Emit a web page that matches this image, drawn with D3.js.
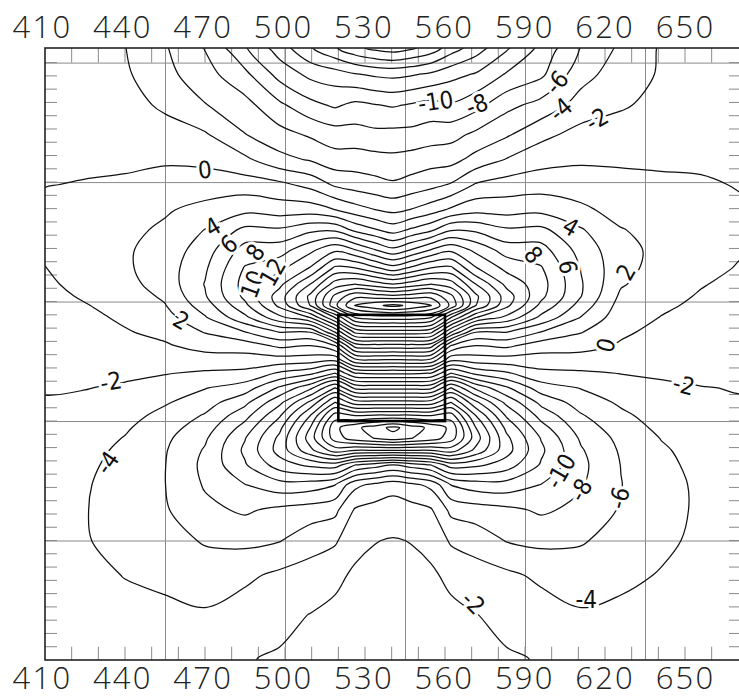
<!DOCTYPE html>
<html lang="en">
<head>
<meta charset="utf-8">
<title>Contour map</title>
<script src="https://cdn.jsdelivr.net/npm/d3@7"></script>
<style>
  body { margin: 0; background: #fff; }
  svg { display: block; }
  .grid line, .tick-marks line { stroke: #8a8a8a; stroke-width: 1; }
  .grid path { display: none; }
  .coord text { font-family: "Open Sans", "DejaVu Sans", sans-serif; font-weight: 300; font-size: 31px; letter-spacing: 2.2px; fill: #222; }
  .coord path, .coord line { display: none; }
  .iso { fill: none; stroke: #111; stroke-width: 1.25; }
  .iso-label { font-family: "Liberation Sans Narrow", "DejaVu Sans Condensed", sans-serif; font-size: 24px; fill: #111;
               stroke: #fff; stroke-width: 6px; paint-order: stroke; text-anchor: middle; dominant-baseline: central; }
</style>
</head>
<body>
<svg id="chart" width="739" height="699"></svg>
<script>
// sample positions (map units, one unit = one small tick), columns west->east, rows north->south
var U_SAMPLES = [0, 3, 6, 9, 12, 15, 17.6, 19.9, 21.75, 23.25, 24.75, 26.1, 27.45, 28.95, 30.45, 32.3, 34.6, 37.2, 40.2, 43.2, 46.2, 49.2, 52.2];
var V_SAMPLES = [46.1, 44.1, 41.8, 39.6, 37.7, 35.8, 33.9, 32.4, 30.9, 29.5, 28.3, 27.4, 26.7, 25.8, 24.7, 23.7, 22.6, 21.6, 20.5, 19.4, 18.4, 17.5, 16.7, 15.8, 14.7, 13.2, 11.3, 9.0, 6.4, 3.4, 0];

// field values, one list per column (north -> south)
var FIELD_COLUMNS = [
  [-0.8, -0.7, -0.55, -0.4, -0.2, -0.05, 0.4, 0.55, 0.35, -0.05, -0.35, -0.55, -0.7, -0.9, -1.1, -1.3, -1.5, -1.7, -1.9, -2.1, -2.3, -2.5, -2.65, -2.8, -3.0, -3.15, -3.25, -3.2, -3.1, -2.95, -2.8],
  [-1.3, -1.15, -0.95, -0.7, -0.35, 0.1, 0.8, 1.2, 1.25, 1.0, 0.6, 0.2, -0.1, -0.45, -0.8, -1.1, -1.35, -1.6, -1.95, -2.3, -2.6, -2.85, -3.05, -3.3, -3.55, -3.8, -3.9, -3.85, -3.6, -3.35, -3.1],
  [-1.95, -1.7, -1.35, -0.95, -0.45, 0.35, 1.1, 1.55, 1.75, 1.7, 1.4, 1.0, 0.65, 0.3, -0.15, -0.7, -1.2, -1.7, -2.2, -2.75, -3.3, -3.75, -4.1, -4.45, -4.75, -4.95, -5.0, -4.75, -4.05, -3.55, -3.25],
  [-3.8, -3.4, -2.3, -1.3, -0.3, 0.9, 1.8, 2.3, 2.8, 3.0, 2.8, 2.3, 1.9, 1.2, 0.5, -0.2, -1.0, -1.9, -2.9, -3.8, -4.6, -5.2, -5.6, -5.85, -5.95, -5.97, -5.8, -5.2, -4.4, -3.6, -3.2],
  [-6.1, -5.2, -3.9, -1.8, -0.5, 1.0, 2.6, 4.05, 5.0, 5.7, 6.1, 5.8, 5.0, 3.8, 2.1, 0.7, -0.8, -2.3, -3.9, -5.1, -6.2, -7.0, -7.7, -8.2, -8.5, -8.2, -7.5, -6.2, -4.9, -3.8, -3.2],
  [-9.8, -7.5, -5.3, -3.95, -1.6, 1.0, 3.5, 6.5, 8.8, 10.2, 10.8, 10.5, 9.5, 7.5, 3.95, 1.0, -0.9, -2.5, -5.0, -7.5, -9.3, -10.8, -11.9, -12.4, -11.8, -9.95, -8.3, -6.5, -4.4, -3.1, -2.1],
  [-13, -10.7, -7.6, -5.3, -3.4, 0.5, 3.05, 6.3, 9.05, 11.5, 13.5, 15.0, 14.5, 11.5, 6.05, 2.5, -0.9, -4.3, -8.3, -11.5, -13.8, -15.5, -16.5, -16.8, -15.05, -11.2, -7.5, -6.1, -3.6, -2.5, -1.8],
  [-15.8, -12.5, -9.4, -6.3, -4.2, -0.6, 3.05, 7.5, 11.5, 14.2, 18.05, 20.5, 20.05, 14.05, 6.05, 2.05, -1.05, -5.5, -11.5, -16.5, -20.05, -22.05, -23, -21.5, -16.5, -11, -7.05, -4.8, -3.2, -1.95, -1.6],
  [-17.8, -13.05, -10.3, -7.05, -5.2, -2.3, 2.05, 7.6, 13.5, 18.5, 23, 26.5, 27.5, 20.05, 12.05, 4.05, -1.5, -8.05, -16.05, -22.05, -27, -29.5, -29, -25, -17, -10.05, -6.5, -4.3, -2.3, -1.7, -1.5],
  [-19.5, -13.8, -9.5, -7.2, -5.05, -2.9, 0.9, 5.5, 12.05, 18.2, 24.05, 29.5, 32.05, 26.05, 18.5, 11, 3.5, -4.05, -11.5, -19, -26.05, -31.5, -31, -24.05, -14.05, -6.5, -3.8, -2.4, -1.8, -1.5, -1.3],
  [-20.5, -14.3, -9.9, -7.5, -5.3, -3.3, 0.05, 4.2, 10.05, 16.5, 23, 29, 33.5, 27, 19, 11.5, 3.9, -3.7, -11.3, -18.8, -26.4, -33, -32.05, -24.05, -13, -5.5, -3.3, -2.05, -1.6, -1.4, -1.2],
  [-21, -14.5, -10.2, -7.4, -5.5, -3.7, -0.5, 3.1, 8.5, 15, 22.05, 28.5, 34.6, 27, 19, 11.4, 3.8, -3.7, -11.3, -18.8, -26.4, -34.6, -33, -24.05, -12.05, -4.8, -3.0, -1.9, -1.5, -1.3, -1.2],
  [-20.3, -14.2, -9.8, -7.4, -5.2, -3.2, 0.1, 4.3, 10.05, 16.5, 23, 29, 33.5, 27, 19, 11.5, 3.9, -3.7, -11.3, -18.8, -26.4, -33, -32.05, -24.05, -13, -5.5, -3.3, -2.05, -1.6, -1.4, -1.2],
  [-19.2, -13.6, -9.3, -7.0, -4.8, -2.6, 1.1, 5.6, 12.05, 18.2, 24.05, 29.5, 32.05, 26.05, 18.5, 11, 3.5, -4.05, -11.5, -19, -26.05, -31.5, -31, -24.05, -14.05, -6.5, -3.8, -2.4, -1.8, -1.5, -1.3],
  [-17.0, -12.6, -9.8, -6.7, -4.7, -1.8, 2.4, 7.8, 13.5, 18.5, 23, 26.5, 27.5, 20.05, 12.05, 4.05, -1.5, -8.05, -16.05, -22.05, -27, -29.5, -29, -25, -17, -10.05, -6.5, -4.3, -2.3, -1.7, -1.5],
  [-15.0, -11.8, -8.7, -5.6, -3.3, 0.2, 3.4, 7.6, 11.5, 14.2, 18.05, 20.5, 20.05, 14.05, 6.05, 2.05, -1.05, -5.5, -11.5, -16.5, -20.05, -22.05, -23, -21.5, -16.5, -11, -7.05, -4.8, -3.2, -1.95, -1.6],
  [-12.3, -9.8, -6.6, -4.3, -1.9, 0.9, 3.2, 6.3, 9.05, 11.5, 13.5, 15.0, 14.5, 11.5, 6.05, 2.5, -0.9, -4.3, -8.3, -11.5, -13.8, -15.5, -16.5, -16.8, -15.05, -11.2, -7.5, -6.1, -3.6, -2.5, -1.8],
  [-9.5, -8.4, -5.3, -2.6, -0.7, 1.1, 3.5, 6.5, 8.8, 10.2, 10.8, 10.5, 9.5, 7.5, 3.95, 1.0, -0.9, -2.5, -5.0, -7.5, -9.3, -10.8, -11.9, -12.4, -11.8, -9.95, -8.3, -6.5, -4.4, -3.1, -2.1],
  [-5.9, -4.7, -3.2, -1.3, -0.3, 1.0, 2.4, 4.2, 5.2, 5.9, 6.2, 6.05, 5.2, 3.9, 2.1, 0.7, -0.8, -2.3, -3.9, -5.1, -6.2, -7.0, -7.7, -8.2, -8.5, -8.2, -7.5, -6.2, -4.9, -3.8, -3.2],
  [-3.6, -3.0, -2.2, -1.2, -0.3, 0.6, 1.3, 2.1, 2.65, 2.6, 2.2, 1.6, 1.2, 0.8, 0.3, -0.2, -1.0, -1.95, -2.8, -3.7, -4.4, -5.0, -5.45, -5.75, -5.95, -6.05, -5.8, -5.2, -4.4, -3.6, -3.2],
  [-1.8, -1.8, -1.5, -0.95, -0.35, 0.4, 1.0, 1.35, 1.45, 1.3, 0.9, 0.55, 0.3, -0.05, -0.5, -0.95, -1.35, -1.8, -2.25, -2.75, -3.2, -3.55, -3.95, -4.25, -4.45, -4.6, -4.55, -4.35, -3.9, -3.45, -3.15],
  [-1.3, -1.25, -1.05, -0.7, -0.3, 0.2, 0.7, 0.95, 0.9, 0.5, 0.1, -0.15, -0.35, -0.6, -0.9, -1.15, -1.4, -1.65, -2.05, -2.35, -2.65, -2.9, -3.1, -3.3, -3.5, -3.7, -3.75, -3.65, -3.45, -3.25, -3.05],
  [-0.9, -0.8, -0.65, -0.45, -0.3, -0.1, 0.2, 0.3, 0.15, -0.15, -0.45, -0.65, -0.8, -0.95, -1.15, -1.35, -1.55, -1.75, -1.93, -2.1, -2.3, -2.45, -2.6, -2.75, -2.9, -3.05, -3.1, -3.05, -2.95, -2.85, -2.75]
];

var LEVELS = d3.range(-34, 36, 2);
var X_LABELS = [410, 440, 470, 500, 530, 560, 590, 620, 650];

// contour labels: level, position (u, v), text angle
var LEVEL_LABELS = [
  {level: -10, u: 29.3, v: 42.05, angle: -8},
  {level: -8, u: 32.4, v: 41.8, angle: -20},
  {level: -6, u: 38.4, v: 43.5, angle: -50},
  {level: -4, u: 38.7, v: 41.45, angle: -40},
  {level: -2, u: 41.4, v: 40.7, angle: -30},
  {level: 0, u: 12.0, v: 36.9, angle: -5},
  {level: 4, u: 12.6, v: 32.6, angle: -30},
  {level: 6, u: 13.8, v: 31.3, angle: -40},
  {level: 8, u: 15.8, v: 30.7, angle: -55},
  {level: 10, u: 15.6, v: 28.3, angle: -70},
  {level: 12, u: 17.1, v: 29.2, angle: -60},
  {level: 2, u: 10.2, v: 25.55, angle: 30},
  {level: 4, u: 39.4, v: 32.6, angle: 30},
  {level: 8, u: 36.6, v: 30.5, angle: 50},
  {level: 6, u: 39.2, v: 29.6, angle: 80},
  {level: 2, u: 43.6, v: 29.2, angle: -60},
  {level: 0, u: 42.1, v: 23.7, angle: -75},
  {level: -2, u: 4.95, v: 20.95, angle: -10},
  {level: -2, u: 47.9, v: 20.7, angle: 15},
  {level: -4, u: 4.7, v: 14.85, angle: -55},
  {level: -10, u: 38.7, v: 14.2, angle: -60},
  {level: -8, u: 40.2, v: 12.8, angle: -60},
  {level: -6, u: 43.1, v: 12.2, angle: -75},
  {level: -2, u: 32.1, v: 4.3, angle: 45},
  {level: -4, u: 40.6, v: 4.5, angle: 0}
];

// the structure outline
var BOX_U = [22, 30];
var BOX_V = [18, 26];

var svg = d3.select("#chart");

// plot scales
var x = d3.scaleLinear().domain([0, 52.2]).range([45, 741]);
var y = d3.scaleLinear().domain([0, 46.1]).range([660, 48]);
// easting labels
var xLab = d3.scaleLinear().domain([410, 650]).range([x(-0.23), x(48.0)]);

svg.append("defs").append("clipPath").attr("id", "plotclip")
  .append("rect")
    .attr("x", x(0)).attr("y", y(46.1))
    .attr("width", x(52.2) - x(0)).attr("height", y(0) - y(46.1));

// grid lines
svg.append("g").attr("class", "grid")
  .attr("transform", "translate(0," + y(0) + ")")
  .call(d3.axisBottom(x).tickValues([9, 18, 27, 36, 45]).tickSize(-(y(0) - y(46.1))).tickFormat(""));
svg.append("g").attr("class", "grid")
  .attr("transform", "translate(" + x(0) + ",0)")
  .call(d3.axisLeft(y).tickValues([9, 18, 27, 36, 45]).tickSize(-(x(52.2) - x(0))).tickFormat(""));

// small tick marks around the frame
var ticks = svg.append("g").attr("class", "tick-marks");
var evenU = d3.range(2, 52, 2);
ticks.selectAll("line.top").data(evenU).enter().append("line").attr("class", "top")
  .attr("x1", function(d){return x(d);}).attr("x2", function(d){return x(d);})
  .attr("y1", y(46.1)).attr("y2", y(45));
ticks.selectAll("line.bot").data(evenU).enter().append("line").attr("class", "bot")
  .attr("x1", function(d){return x(d);}).attr("x2", function(d){return x(d);})
  .attr("y1", y(0)).attr("y2", y(1));
var allV = d3.range(1, 46, 1);
ticks.selectAll("line.lft").data(allV).enter().append("line").attr("class", "lft")
  .attr("x1", x(0)).attr("x2", x(0.9))
  .attr("y1", function(d){return y(d);}).attr("y2", function(d){return y(d);});
ticks.selectAll("line.rgt").data(allV).enter().append("line").attr("class", "rgt")
  .attr("x1", x(51.3)).attr("x2", x(52.2))
  .attr("y1", function(d){return y(d);}).attr("y2", function(d){return y(d);});

// contour computation
var nx = U_SAMPLES.length, ny = V_SAMPLES.length;
var values = new Array(nx * ny);
for (var j = 0; j < ny; j++) {
  for (var i = 0; i < nx; i++) values[j * nx + i] = FIELD_COLUMNS[i][j];
}
var contours = d3.contours().size([nx, ny]).thresholds(LEVELS)(values);

var idxU = d3.scaleLinear().domain(d3.range(nx)).range(U_SAMPLES);
var idxV = d3.scaleLinear().domain(d3.range(ny)).range(V_SAMPLES);
var line = d3.line().curve(d3.curveCatmullRomClosed.alpha(0.5));

var iso = svg.append("g").attr("clip-path", "url(#plotclip)");
contours.forEach(function(c) {
  c.coordinates.forEach(function(poly) {
    poly.forEach(function(ring) {
      var pts = ring.slice(0, -1).map(function(p) {
        return [x(idxU(p[0] - 0.5)), y(idxV(p[1] - 0.5))];
      });
      iso.append("path").attr("class", "iso").attr("d", line(pts));
    });
  });
});

// structure outline
svg.append("rect")
  .attr("x", x(BOX_U[0])).attr("y", y(BOX_V[1]))
  .attr("width", x(BOX_U[1]) - x(BOX_U[0])).attr("height", y(BOX_V[0]) - y(BOX_V[1]))
  .attr("fill", "none").attr("stroke", "#000").attr("stroke-width", 2.6);

// contour labels
svg.append("g").attr("clip-path", "url(#plotclip)")
  .selectAll("text").data(LEVEL_LABELS).enter().append("text")
    .attr("class", "iso-label")
    .attr("transform", function(d){return "translate(" + x(d.u) + "," + y(d.v) + ") rotate(" + d.angle + ")";})
    .text(function(d){return d.level;});

// frame
svg.append("rect")
  .attr("x", x(0)).attr("y", y(46.1))
  .attr("width", x(52.2) - x(0)).attr("height", y(0) - y(46.1))
  .attr("fill", "none").attr("stroke", "#222").attr("stroke-width", 1.6);

// easting labels top and bottom
svg.append("g").attr("class", "coord")
  .attr("transform", "translate(0,38)")
  .call(d3.axisTop(xLab).tickValues(X_LABELS).tickSize(0).tickPadding(0));
svg.append("g").attr("class", "coord")
  .attr("transform", "translate(0,667)")
  .call(d3.axisBottom(xLab).tickValues(X_LABELS).tickSize(0).tickPadding(0));
</script>
</body>
</html>
